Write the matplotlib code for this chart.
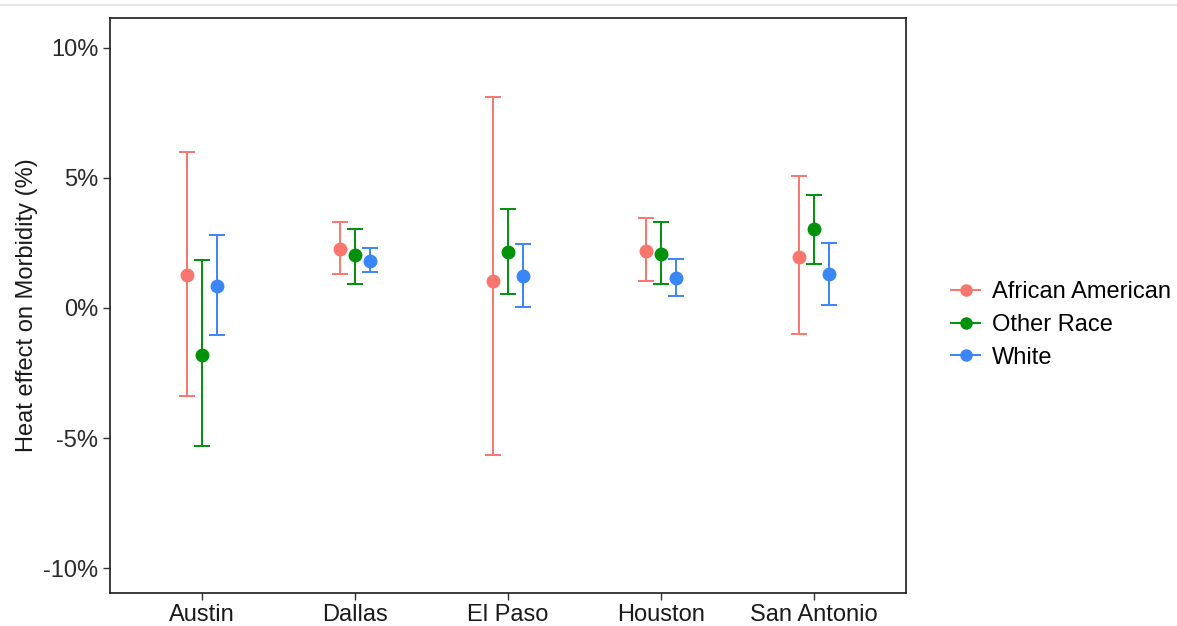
import matplotlib
matplotlib.use("Agg")
import matplotlib.pyplot as plt
from matplotlib.lines import Line2D
import numpy as np

plt.rcParams['font.family'] = ['Liberation Sans', 'DejaVu Sans']

cities = ["Austin", "Dallas", "El Paso", "Houston", "San Antonio"]
groups = ["African American", "Other Race", "White"]
colors = ["#F8766D", "#00920A", "#3B86F5"]

est = {
    "African American": [1.25, 2.28, 1.03, 2.20, 1.95],
    "Other Race":       [-1.80, 2.03, 2.15, 2.07, 3.03],
    "White":            [0.84, 1.82, 1.23, 1.15, 1.30],
}
lower = {
    "African American": [-3.40, 1.30, -5.67, 1.03, -1.02],
    "Other Race":       [-5.29, 0.92, 0.54, 0.92, 1.69],
    "White":            [-1.03, 1.38, 0.04, 0.46, 0.11],
}
upper = {
    "African American": [5.98, 3.30, 8.12, 3.45, 5.06],
    "Other Race":       [1.84, 3.03, 3.79, 3.30, 4.33],
    "White":            [2.80, 2.30, 2.45, 1.88, 2.49],
}
yticks = [-10, -5, 0, 5, 10]
ytick_labels = ["-10%", "-5%", "0%", "5%", "10%"]

fig = plt.figure(figsize=(11.77, 6.26), dpi=100)
ax = fig.add_axes([110/1177, 1-593/626, 796/1177, 575/626])

x = np.arange(1, len(cities)+1)
offsets = [-0.1, 0.0, 0.1]
for g, c, off in zip(groups, colors, offsets):
    e = np.array(est[g]); lo = np.array(lower[g]); hi = np.array(upper[g])
    ax.errorbar(x + off, e, yerr=[e - lo, hi - e], fmt='o', color=c,
                ecolor=c, elinewidth=1.4, capsize=5.5, capthick=1.4,
                markersize=9, label=g)

ax.set_xlim(0.4, 5.6)
ax.set_ylim(-10.96, 11.15)
ax.set_xticks(x)
ax.set_xticklabels(cities, fontsize=17, color="#1a1a1a")
ax.set_yticks(yticks)
ax.set_yticklabels(ytick_labels, fontsize=17, color="#2a2a2a")
ax.tick_params(axis='both', length=5, width=1, color="#333333")
ax.tick_params(axis='x', pad=3)
ax.set_ylabel("Heat effect on Morbidity (%)", fontsize=17, color="#1a1a1a", labelpad=4)
for s in ax.spines.values():
    s.set_linewidth(1.2)
    s.set_color("#1a1a1a")

fig.add_artist(Line2D([0, 1], [1-5/626, 1-5/626], color="#e6e6e6", lw=1.5,
                      transform=fig.transFigure))

handles = [Line2D([0], [0], color=c, marker='o', markersize=8, lw=1.4) for c in colors]
fig.legend(handles, groups, loc='center left', bbox_to_anchor=(942/1177, 1-325/626),
           frameon=False, fontsize=17, handlelength=1.2, handletextpad=0.5,
           labelspacing=0.45, borderaxespad=0)

fig.savefig("out.png", dpi=100)
